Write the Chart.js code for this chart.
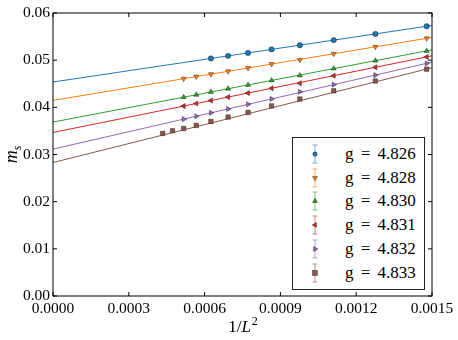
<!DOCTYPE html>
<html>
<head>
<meta charset="utf-8">
<script src="https://cdn.jsdelivr.net/npm/chart.js@4.4.0/dist/chart.umd.min.js"></script>
<style>
  body { margin: 0; background: #fff; }
  #wrap { position: relative; width: 458px; height: 340px; }
  #legend {
    position: absolute; left: 292px; top: 137px; width: 133px; height: 153px;
    box-sizing: border-box; border: 1px solid #222; background: #fff;
  }
  .row { position: absolute; left: 0; height: 24px; width: 100%; }
  .row svg { position: absolute; left: 17px; top: 2px; }
  .row span {
    position: absolute; left: 52px; top: 1px;
    font-family: "Liberation Serif", serif;
    font-size: 17px; line-height: 22px; word-spacing: 3px; color: #000;
  }
</style>
</head>
<body>
<div id="wrap">
  <canvas id="ms-chart" width="458" height="340"></canvas>
  <div id="legend"></div>
</div>
<script>
// series names and colours
const seriesNames = ['g = 4.826', 'g = 4.828', 'g = 4.830', 'g = 4.831', 'g = 4.832', 'g = 4.833'];
const colors = ['#1f77b4', '#ff7f0e', '#2ca02c', '#d62728', '#9467bd', '#8c564b'];
const markers = ['circle', 'triangle', 'triangle', 'triangle', 'triangle', 'rect'];
const rotations = [0, 180, 0, 270, 90, 0];

// 1/L^2 values (L = 48 ... 26)
const x826 = [0.000625, 0.000693, 0.000772, 0.000865, 0.000977, 0.001111, 0.001276, 0.001479];
const x828 = [0.000517, 0.000567, 0.000625, 0.000693, 0.000772, 0.000865, 0.000977, 0.001111, 0.001276, 0.001479];
const x830 = [0.000517, 0.000567, 0.000625, 0.000693, 0.000772, 0.000865, 0.000977, 0.001111, 0.001276, 0.001479];
const x831 = [0.000517, 0.000567, 0.000625, 0.000693, 0.000772, 0.000865, 0.000977, 0.001111, 0.001276, 0.001479];
const x832 = [0.000517, 0.000567, 0.000625, 0.000693, 0.000772, 0.000865, 0.000977, 0.001111, 0.001276, 0.001479];
const x833 = [0.000434, 0.000473, 0.000517, 0.000567, 0.000625, 0.000693, 0.000772, 0.000865, 0.000977, 0.001111, 0.001276, 0.001479];

// m_s values
const y826 = [0.05036, 0.05091, 0.05154, 0.05228, 0.05316, 0.05425, 0.05557, 0.05718];
const y828 = [0.04607, 0.04652, 0.04703, 0.04764, 0.04834, 0.04917, 0.05005, 0.05136, 0.05283, 0.05463];
const y830 = [0.04215, 0.04266, 0.04326, 0.04395, 0.04475, 0.04570, 0.04675, 0.04821, 0.04990, 0.05195];
const y831 = [0.04027, 0.04081, 0.04144, 0.04218, 0.04303, 0.04404, 0.04510, 0.04670, 0.04849, 0.05068];
const y832 = [0.03750, 0.03811, 0.03883, 0.03966, 0.04064, 0.04178, 0.04330, 0.04481, 0.04683, 0.04932];
const y833 = [0.03446, 0.03503, 0.03552, 0.03616, 0.03700, 0.03794, 0.03892, 0.04030, 0.04176, 0.04350, 0.04558, 0.04810];

// error bars (small)
const errSize = [0.0003, 0.0004, 0.0003, 0.0003, 0.0003, 0.0003];

// fitted lines, value at 1/L^2 = 0 and at 1/L^2 = 0.0015
const fitX = [0, 0.0015];
const fitStart = [0.04537, 0.04147, 0.03688, 0.03467, 0.03114, 0.0283];
const fitEnd = [0.05736, 0.05482, 0.05218, 0.05092, 0.04959, 0.0484];

const xTicks = [0, 0.0003, 0.0006, 0.0009, 0.0012, 0.0015];
const yTicks = [0, 0.01, 0.02, 0.03, 0.04, 0.05, 0.06];

const xs = [x826, x828, x830, x831, x832, x833];
const ys = [y826, y828, y830, y831, y832, y833];

const datasets = [];
for (let i = 0; i < 6; i++) {
  datasets.push({
    type: 'line',
    label: 'fit ' + seriesNames[i],
    data: fitX.map((x, k) => ({ x: x, y: k === 0 ? fitStart[i] : fitEnd[i] })),
    borderColor: colors[i],
    borderWidth: 1,
    pointRadius: 0,
    fill: false,
    order: 2
  });
}
for (let i = 0; i < 6; i++) {
  datasets.push({
    type: 'scatter',
    label: seriesNames[i],
    data: xs[i].map((x, k) => ({ x: x, y: ys[i][k] })),
    errors: xs[i].map(() => errSize[i]),
    backgroundColor: colors[i],
    borderColor: 'rgba(0,0,0,0.7)',
    borderWidth: 0.5,
    pointStyle: markers[i],
    rotation: rotations[i],
    pointRadius: markers[i] === 'rect' ? 3.2 : (markers[i] === 'circle' ? 2.7 : 3),
    order: 1
  });
}

const font = "'Liberation Serif', serif";

const frame = {
  id: 'frame',
  beforeDatasetsDraw(chart) {
    const ctx = chart.ctx;
    // error bars
    chart.data.datasets.forEach((ds, di) => {
      if (!ds.errors) return;
      const meta = chart.getDatasetMeta(di);
      const sy = chart.scales.y;
      ctx.save();
      ctx.strokeStyle = '#333';
      ctx.lineWidth = 0.8;
      meta.data.forEach((pt, k) => {
        const v = ds.data[k].y, e = ds.errors[k];
        const top = sy.getPixelForValue(v + e), bot = sy.getPixelForValue(v - e);
        ctx.beginPath();
        ctx.moveTo(pt.x, top); ctx.lineTo(pt.x, bot);
        ctx.stroke();
      });
      ctx.restore();
    });
  },
  afterDraw(chart) {
    const ctx = chart.ctx;
    const a = chart.chartArea;
    const sx = chart.scales.x, sy = chart.scales.y;
    ctx.save();
    ctx.strokeStyle = '#000';
    ctx.lineWidth = 1;
    ctx.strokeRect(a.left, a.top, a.right - a.left, a.bottom - a.top);
    ctx.beginPath();
    xTicks.forEach(v => {
      const p = sx.getPixelForValue(v);
      ctx.moveTo(p, a.bottom); ctx.lineTo(p, a.bottom - 4);
      ctx.moveTo(p, a.top); ctx.lineTo(p, a.top + 4);
    });
    yTicks.forEach(v => {
      const p = sy.getPixelForValue(v);
      ctx.moveTo(a.left, p); ctx.lineTo(a.left + 4, p);
      ctx.moveTo(a.right, p); ctx.lineTo(a.right - 4, p);
    });
    ctx.stroke();

    // axis titles
    ctx.fillStyle = '#000';
    ctx.textBaseline = 'alphabetic';
    const cx = (a.left + a.right) / 2;
    ctx.font = "17px " + font;
    const w1 = ctx.measureText('1/').width;
    ctx.font = "italic 17px " + font;
    const w2 = ctx.measureText('L').width;
    ctx.font = "12px " + font;
    const w3 = ctx.measureText('2').width;
    let x0 = cx - (w1 + w2 + w3) / 2;
    const base = 332;
    ctx.font = "17px " + font; ctx.fillText('1/', x0, base);
    ctx.font = "italic 17px " + font; ctx.fillText('L', x0 + w1, base);
    ctx.font = "12px " + font; ctx.fillText('2', x0 + w1 + w2 + 1, base - 7);

    ctx.translate(17, (a.top + a.bottom) / 2);
    ctx.rotate(-Math.PI / 2);
    ctx.font = "italic 18px " + font;
    const wm = ctx.measureText('m').width;
    ctx.font = "italic 12px " + font;
    const ws = ctx.measureText('s').width;
    const mx = -(wm + ws) / 2;
    ctx.font = "italic 18px " + font; ctx.fillText('m', mx, 0);
    ctx.font = "italic 12px " + font; ctx.fillText('s', mx + wm, 4);
    ctx.restore();
  }
};

new Chart('ms-chart', {
  data: { datasets: datasets },
  options: {
    responsive: false,
    animation: false,
    devicePixelRatio: 1,
    layout: { padding: { left: 0, top: 13, right: 26, bottom: 0 } },
    plugins: { legend: { display: false }, tooltip: { enabled: false } },
    scales: {
      x: {
        type: 'linear', min: 0, max: 0.0015,
        afterBuildTicks: s => { s.ticks = xTicks.map(v => ({ value: v })); },
        afterFit: s => { s.height = 44; },
        grid: { display: false, drawTicks: false },
        border: { display: false },
        ticks: {
          color: '#000', padding: 4, maxRotation: 0,
          font: { family: font, size: 15.5 },
          callback: v => Number(v).toFixed(4)
        }
      },
      y: {
        type: 'linear', min: 0, max: 0.06,
        afterBuildTicks: s => { s.ticks = yTicks.map(v => ({ value: v })); },
        afterFit: s => { s.width = 53; },
        grid: { display: false, drawTicks: false },
        border: { display: false },
        ticks: {
          color: '#000', padding: 3,
          font: { family: font, size: 15.5 },
          callback: v => Number(v).toFixed(2)
        }
      }
    }
  },
  plugins: [frame]
});

// legend (HTML), built from the series arrays
const legend = document.getElementById('legend');
function markerSvg(i) {
  const c = colors[i];
  let m;
  if (markers[i] === 'circle') m = `<circle cx="5" cy="10" r="2.2" fill="${c}" stroke="#000" stroke-width="0.4"/>`;
  else if (markers[i] === 'rect') m = `<rect x="2.6" y="7.6" width="4.8" height="4.8" fill="${c}" stroke="#000" stroke-width="0.4"/>`;
  else {
    const r = 2.8;
    const pts = [0, 120, 240].map(d => {
      const a = (d + rotations[i]) * Math.PI / 180;
      return (5 + Math.sin(a) * r).toFixed(2) + ',' + (10 - Math.cos(a) * r).toFixed(2);
    }).join(' ');
    m = `<polygon points="${pts}" fill="${c}" stroke="#000" stroke-width="0.4"/>`;
  }
  return `<svg width="10" height="20" viewBox="0 0 10 20">
    <g stroke="${c}" stroke-opacity="0.6" stroke-width="1">
      <line x1="5" y1="1" x2="5" y2="19"/><line x1="2.5" y1="1" x2="7.5" y2="1"/><line x1="2.5" y1="19" x2="7.5" y2="19"/>
    </g>${m}</svg>`;
}
seriesNames.forEach((name, i) => {
  const row = document.createElement('div');
  row.className = 'row';
  row.style.top = (4 + i * 23.7) + 'px';
  row.innerHTML = markerSvg(i) + '<span>' + name + '</span>';
  legend.appendChild(row);
});
</script>
</body>
</html>
